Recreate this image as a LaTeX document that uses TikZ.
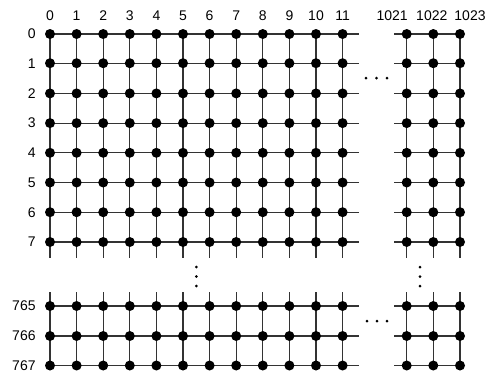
\documentclass[tikz,border=0pt]{standalone}
\usepackage{fontspec}
\setmainfont{Liberation Sans}
\usetikzlibrary{positioning,backgrounds}

\begin{document}
\begin{tikzpicture}[
    x=1pt, y=-1pt,
    font=\fontsize{14}{16}\selectfont,
    pe/.style={circle, fill=black, inner sep=0pt, minimum size=10pt},
    lab/.style={inner sep=0pt},
    wire/.style={draw=black!80, line width=1.1pt},
    skip/.style={fill=black}
  ]
  \useasboundingbox (0,0) rectangle (490,373);
  % processing elements
  \foreach \r/\y in {0/34,1/63.2,2/93.4,3/123.1,4/152.8,5/182.5,6/212.2,7/242,765/306,766/336,767/365.5}
    \foreach \c/\x in {0/50,1/76.6,2/103.2,3/129.8,4/156.4,5/183,6/209.6,7/236.2,8/262.8,9/289.4,10/316,11/342.6,1021/406.7,1022/433.3,1023/460}
      \node[pe] (p-\r-\c) at (\x,\y) {};
  % row and column numbers
  \foreach \r in {0,1,2,3,4,5,6,7,765,766,767}
    \node[lab, left=9pt of p-\r-0] (row-\r) {\r};
  \foreach \c in {0,1,2,3,4,5,6,7,8,9,10,11}
    \node[lab, above=8pt of p-0-\c] (col-\c) {\c};
  \node[lab, above=8pt of p-0-1021, xshift=-14.5pt] (col-1021) {1021};
  \node[lab, above=8pt of p-0-1022, xshift=-1.5pt] (col-1022) {1022};
  \node[lab, above=8pt of p-0-1023, xshift=10pt] (col-1023) {1023};
  % links
  \begin{scope}[on background layer]
    \foreach \r in {0,1,2,3,4,5,6,7,765,766,767} {
      \coordinate[right=16.4pt of p-\r-11.center] (hl-\r);
      \coordinate[left=12.7pt of p-\r-1021.center] (hr-\r);
      \draw[wire] (p-\r-0.center) -- (p-\r-11.center) -- (hl-\r);
      \draw[wire] (hr-\r) -- (p-\r-1021.center) -- (p-\r-1023.center);
    }
    \foreach \c in {0,1,2,3,4,5,6,7,8,9,10,11,1021,1022,1023} {
      \coordinate[below=16pt of p-7-\c.center] (vt-\c);
      \coordinate[above=14pt of p-765-\c.center] (vb-\c);
      \draw[wire] (p-0-\c.center) -- (p-7-\c.center) -- (vt-\c);
      \draw[wire] (vb-\c) -- (p-765-\c.center) -- (p-767-\c.center);
    }
  \end{scope}
  % omitted rows and columns
  \foreach \k in {0,1,2} {
    \fill[skip] (366+10.5*\k,78) circle (1.5);
    \fill[skip] (367+10*\k,321) circle (1.5);
    \fill[skip] (196.3,267+9.5*\k) circle (1.5);
    \fill[skip] (420,267+9.5*\k) circle (1.5);
  }
\end{tikzpicture}
\end{document}
